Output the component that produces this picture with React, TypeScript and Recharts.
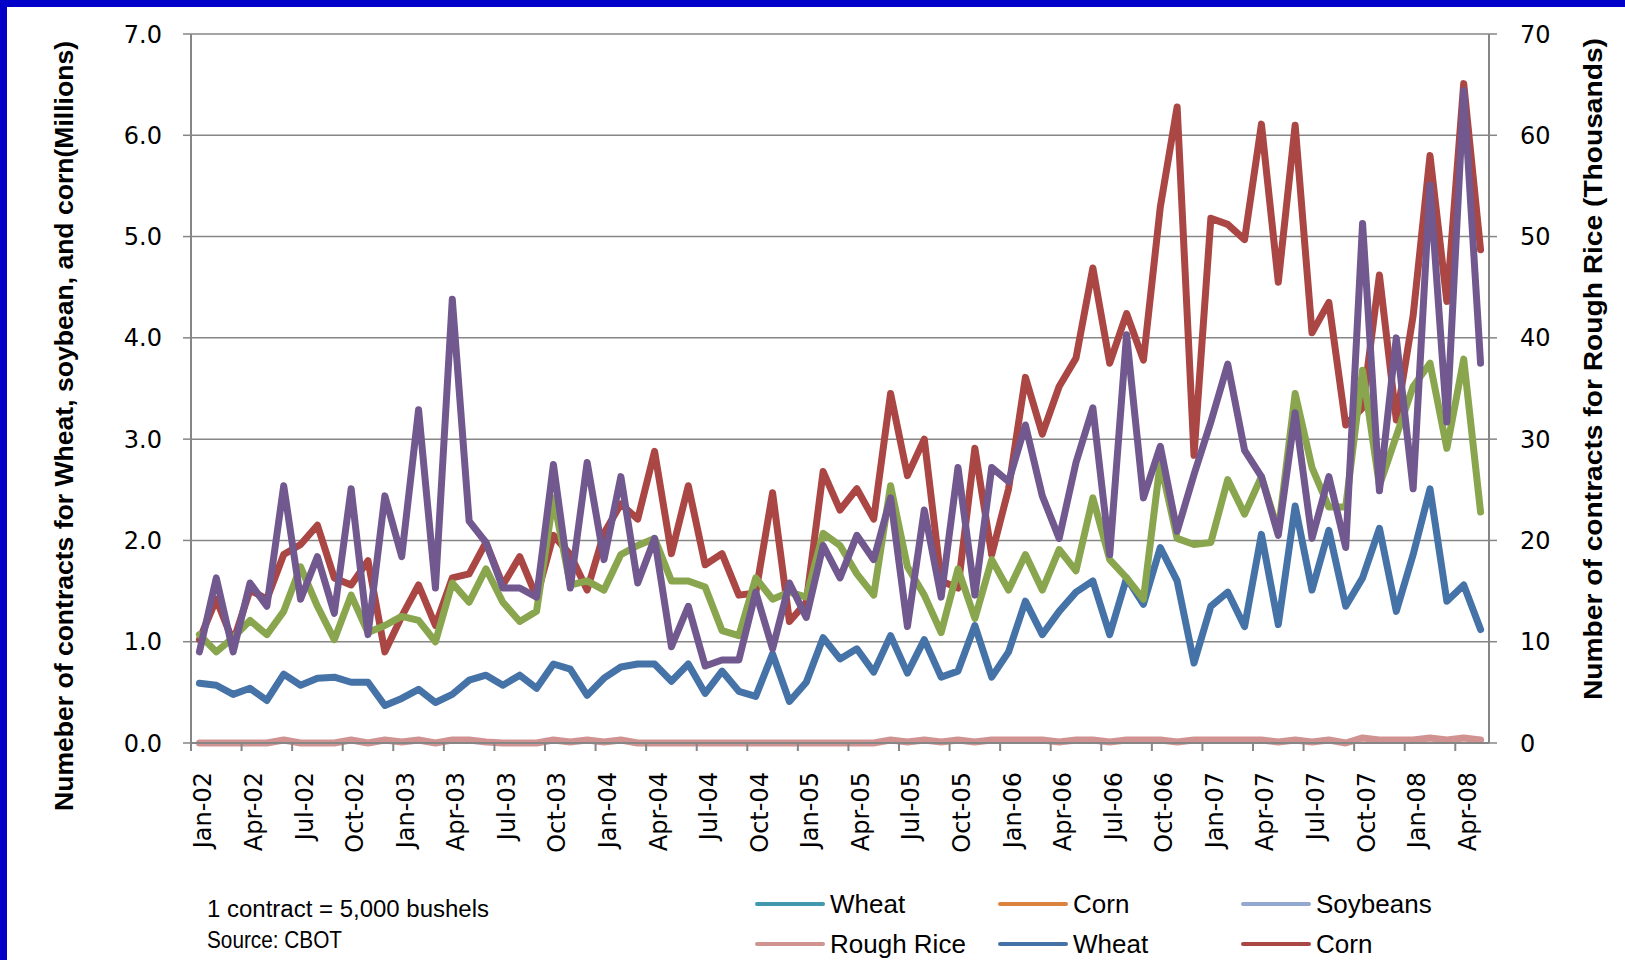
import { CartesianGrid, Line, LineChart, XAxis, YAxis } from "recharts";

const months = [
  "Jan-02", "Feb-02", "Mar-02", "Apr-02", "May-02", "Jun-02", "Jul-02", "Aug-02", "Sep-02", "Oct-02", "Nov-02", "Dec-02",
  "Jan-03", "Feb-03", "Mar-03", "Apr-03", "May-03", "Jun-03", "Jul-03", "Aug-03", "Sep-03", "Oct-03", "Nov-03", "Dec-03",
  "Jan-04", "Feb-04", "Mar-04", "Apr-04", "May-04", "Jun-04", "Jul-04", "Aug-04", "Sep-04", "Oct-04", "Nov-04", "Dec-04",
  "Jan-05", "Feb-05", "Mar-05", "Apr-05", "May-05", "Jun-05", "Jul-05", "Aug-05", "Sep-05", "Oct-05", "Nov-05", "Dec-05",
  "Jan-06", "Feb-06", "Mar-06", "Apr-06", "May-06", "Jun-06", "Jul-06", "Aug-06", "Sep-06", "Oct-06", "Nov-06", "Dec-06",
  "Jan-07", "Feb-07", "Mar-07", "Apr-07", "May-07", "Jun-07", "Jul-07", "Aug-07", "Sep-07", "Oct-07", "Nov-07", "Dec-07",
  "Jan-08", "Feb-08", "Mar-08", "Apr-08", "May-08",
];

// every third month gets a label
const labelIdx = [0, 3, 6, 9, 12, 15, 18, 21, 24, 27, 30, 33, 36, 39, 42, 45, 48, 51, 54, 57, 60, 63, 66, 69, 72, 75];
const leftTicks = [0, 1, 2, 3, 4, 5, 6, 7];
const rightTicks = [0, 10, 20, 30, 40, 50, 60, 70];

// millions of contracts (left axis)
const wheat = [
  0.59, 0.57, 0.48, 0.54, 0.42, 0.68, 0.57, 0.64, 0.65, 0.6, 0.6, 0.37,
  0.44, 0.53, 0.4, 0.48, 0.62, 0.67, 0.57, 0.67, 0.54, 0.78, 0.73, 0.47,
  0.64, 0.75, 0.78, 0.78, 0.61, 0.78, 0.49, 0.71, 0.51, 0.46, 0.88, 0.41,
  0.6, 1.04, 0.83, 0.93, 0.7, 1.06, 0.69, 1.02, 0.65, 0.71, 1.16, 0.65,
  0.9, 1.4, 1.07, 1.3, 1.49, 1.6, 1.07, 1.63, 1.37, 1.93, 1.6, 0.79,
  1.35, 1.49, 1.15, 2.06, 1.17, 2.34, 1.51, 2.1, 1.35, 1.63, 2.12, 1.3,
  1.86, 2.51, 1.4, 1.56, 1.12,
];
const corn = [
  1.02, 1.42, 1.0, 1.51, 1.42, 1.86, 1.96, 2.15, 1.63, 1.56, 1.8, 0.9,
  1.25, 1.56, 1.16, 1.63, 1.67, 1.98, 1.56, 1.84, 1.44, 2.05, 1.86, 1.51,
  2.07, 2.36, 2.21, 2.88, 1.87, 2.54, 1.76, 1.87, 1.46, 1.48, 2.47, 1.2,
  1.39, 2.68, 2.3, 2.51, 2.21, 3.45, 2.64, 3.0, 1.6, 1.53, 2.91, 1.86,
  2.51, 3.61, 3.05, 3.52, 3.8, 4.69, 3.75, 4.24, 3.78, 5.29, 6.28, 2.84,
  5.18, 5.12, 4.97, 6.11, 4.55, 6.1, 4.05, 4.35, 3.14, 3.31, 4.62, 3.19,
  4.22, 5.8, 4.36, 6.51, 4.87,
];
const soybeans = [
  1.07, 0.9, 1.04, 1.21, 1.07, 1.3, 1.74, 1.35, 1.02, 1.46, 1.09, 1.16,
  1.25, 1.21, 1.0, 1.58, 1.39, 1.72, 1.39, 1.2, 1.3, 2.42, 1.56, 1.6,
  1.51, 1.86, 1.95, 2.02, 1.6, 1.6, 1.54, 1.11, 1.06, 1.63, 1.42, 1.49,
  1.44, 2.07, 1.95, 1.67, 1.46, 2.54, 1.74, 1.46, 1.09, 1.72, 1.23, 1.81,
  1.51, 1.86, 1.51, 1.91, 1.7, 2.42, 1.81, 1.63, 1.42, 2.77, 2.02, 1.96,
  1.98, 2.6, 2.26, 2.63, 2.09, 3.45, 2.72, 2.33, 2.33, 3.68, 2.54, 3.03,
  3.52, 3.75, 2.91, 3.79, 2.28,
];
const purple = [
  0.9, 1.63, 0.9, 1.58, 1.35, 2.54, 1.42, 1.84, 1.28, 2.51, 1.07, 2.44,
  1.84, 3.29, 1.53, 4.38, 2.19, 1.98, 1.53, 1.53, 1.44, 2.75, 1.53, 2.77,
  1.81, 2.63, 1.58, 2.02, 0.95, 1.35, 0.76, 0.82, 0.82, 1.49, 0.93, 1.58,
  1.24, 1.95, 1.63, 2.05, 1.81, 2.42, 1.15, 2.3, 1.44, 2.72, 1.46, 2.72,
  2.58, 3.14, 2.44, 2.02, 2.77, 3.31, 1.86, 4.03, 2.42, 2.93, 2.09, 2.65,
  3.17, 3.74, 2.89, 2.63, 2.05, 3.26, 2.02, 2.63, 1.93, 5.13, 2.49, 4.0,
  2.51, 5.51, 3.17, 6.44, 3.75,
];
// thousands of contracts (right axis)
const roughRice = [
  0, 0, 0, 0, 0, 0.3, 0, 0, 0, 0.3, 0, 0.3,
  0.1, 0.3, 0, 0.3, 0.3, 0.1, 0, 0, 0, 0.3, 0.1, 0.3,
  0.1, 0.3, 0, 0, 0, 0, 0, 0, 0, 0, 0, 0,
  0, 0, 0, 0, 0, 0.3, 0.1, 0.3, 0.1, 0.3, 0.1, 0.3,
  0.3, 0.3, 0.3, 0.1, 0.3, 0.3, 0.1, 0.3, 0.3, 0.3, 0.1, 0.3,
  0.3, 0.3, 0.3, 0.3, 0.1, 0.3, 0.1, 0.3, 0, 0.5, 0.3, 0.3,
  0.3, 0.5, 0.3, 0.5, 0.3,
];

const legendNames = ["Wheat", "Corn", "Soybeans", "Rough Rice", "Wheat", "Corn"];
const legendColors = ["#4198AF", "#DB843D", "#93A9CF", "#D19392", "#4572A7", "#AA4643"];

const data = months.map((m, i) => ({
  idx: i,
  month: m,
  wheat: wheat[i],
  corn: corn[i],
  soybeans: soybeans[i],
  purple: purple[i],
  roughRice: roughRice[i],
}));

const W = 1625;
const H = 960;
const PLOT_LEFT = 191;
const PLOT_RIGHT = 1489;
const PLOT_TOP = 34;
const PLOT_BOTTOM = 743;
const HALF_BAND = (PLOT_RIGHT - PLOT_LEFT) / months.length / 2;
const AXIS = "#868686";
const TICK_FONT = "DejaVu Sans";

function MonthTick(props: any) {
  const { x, payload } = props;
  const ty = PLOT_BOTTOM + 29;
  return (
    <g>
      <line
        x1={x - HALF_BAND}
        x2={x - HALF_BAND}
        y1={PLOT_BOTTOM}
        y2={PLOT_BOTTOM + 8}
        stroke={AXIS}
        strokeWidth={2}
      />
      <text
        x={x}
        y={ty}
        transform={`rotate(-90 ${x} ${ty})`}
        textAnchor="end"
        dy="0.5em"
        fontFamily={TICK_FONT}
        fontSize={24}
        fill="#000"
      >
        {months[payload.value]}
      </text>
    </g>
  );
}

const lineProps = {
  type: "linear" as const,
  dot: false,
  strokeWidth: 7,
  strokeLinejoin: "round" as const,
  strokeLinecap: "round" as const,
  isAnimationActive: false,
};

export default function App() {
  const tickStyle = { fill: "#000", fontSize: 24, fontFamily: TICK_FONT };
  const legendX = [757, 1000, 1243];
  const legendY = [904, 944];

  return (
    <div style={{ position: "absolute", left: 0, top: 0, width: W, height: H, background: "#fff" }}>
      <LineChart width={W} height={H} data={data} margin={{ top: PLOT_TOP, right: 0, bottom: 0, left: 0 }}>
        <CartesianGrid yAxisId="left" vertical={false} stroke={AXIS} strokeWidth={1.5} />
        <XAxis
          dataKey="idx"
          type="number"
          domain={[-0.5, months.length - 0.5]}
          ticks={labelIdx}
          interval={0}
          height={H - PLOT_BOTTOM}
          tickLine={false}
          axisLine={{ stroke: AXIS, strokeWidth: 2 }}
          tick={<MonthTick />}
        />
        <YAxis
          yAxisId="left"
          domain={[0, 7]}
          ticks={leftTicks}
          width={PLOT_LEFT}
          tickSize={8}
          tickMargin={21}
          tickFormatter={(v: number) => v.toFixed(1)}
          tick={tickStyle}
          tickLine={{ stroke: AXIS, strokeWidth: 1.5 }}
          axisLine={{ stroke: AXIS, strokeWidth: 2 }}
        />
        <YAxis
          yAxisId="right"
          orientation="right"
          domain={[0, 70]}
          ticks={rightTicks}
          width={W - PLOT_RIGHT}
          tickSize={8}
          tickMargin={23}
          tick={tickStyle}
          tickLine={{ stroke: AXIS, strokeWidth: 1.5 }}
          axisLine={{ stroke: AXIS, strokeWidth: 2 }}
        />
        <Line {...lineProps} yAxisId="right" dataKey="roughRice" stroke="#D19392" />
        <Line {...lineProps} yAxisId="left" dataKey="wheat" stroke="#4572A7" />
        <Line {...lineProps} yAxisId="left" dataKey="corn" stroke="#AA4643" />
        <Line {...lineProps} yAxisId="left" dataKey="soybeans" stroke="#89A54E" />
        <Line {...lineProps} yAxisId="left" dataKey="purple" stroke="#71588F" />
      </LineChart>

      <svg width={W} height={H} style={{ position: "absolute", left: 0, top: 0, pointerEvents: "none" }}>
        <text
          transform="translate(64,426) rotate(-90)"
          textAnchor="middle"
          dy="0.35em"
          fontFamily="Liberation Sans"
          fontWeight="bold"
          fontSize={26}
          textLength={770}
          lengthAdjust="spacingAndGlyphs"
        >
          Numeber of contracts for Wheat, soybean, and corn(Millions)
        </text>
        <text
          transform="translate(1593,369) rotate(-90)"
          textAnchor="middle"
          dy="0.35em"
          fontFamily="Liberation Sans"
          fontWeight="bold"
          fontSize={26}
          textLength={662}
          lengthAdjust="spacingAndGlyphs"
        >
          Number of contracts for Rough Rice (Thousands)
        </text>
        <text x={207} y={909} dy="0.35em" fontFamily="Liberation Sans" fontSize={23} textLength={282} lengthAdjust="spacingAndGlyphs">
          1 contract = 5,000 bushels
        </text>
        <text x={207} y={940} dy="0.35em" fontFamily="Liberation Sans" fontSize={23} textLength={135} lengthAdjust="spacingAndGlyphs">
          Source: CBOT
        </text>
        {legendNames.map((name, i) => {
          const x = legendX[i % 3];
          const y = legendY[Math.floor(i / 3)];
          return (
            <g key={i}>
              <line x1={x} x2={x + 66} y1={y} y2={y} stroke={legendColors[i]} strokeWidth={4} strokeLinecap="round" />
              <text x={x + 73} y={y} dy="0.35em" fontFamily="Liberation Sans" fontSize={26} fill="#000">
                {name}
              </text>
            </g>
          );
        })}
      </svg>

      <div style={{ position: "absolute", left: 0, top: 0, width: W, height: 7, background: "#0000C8" }} />
      <div style={{ position: "absolute", left: 0, top: 0, width: 7, height: H, background: "#0000C8" }} />
    </div>
  );
}
